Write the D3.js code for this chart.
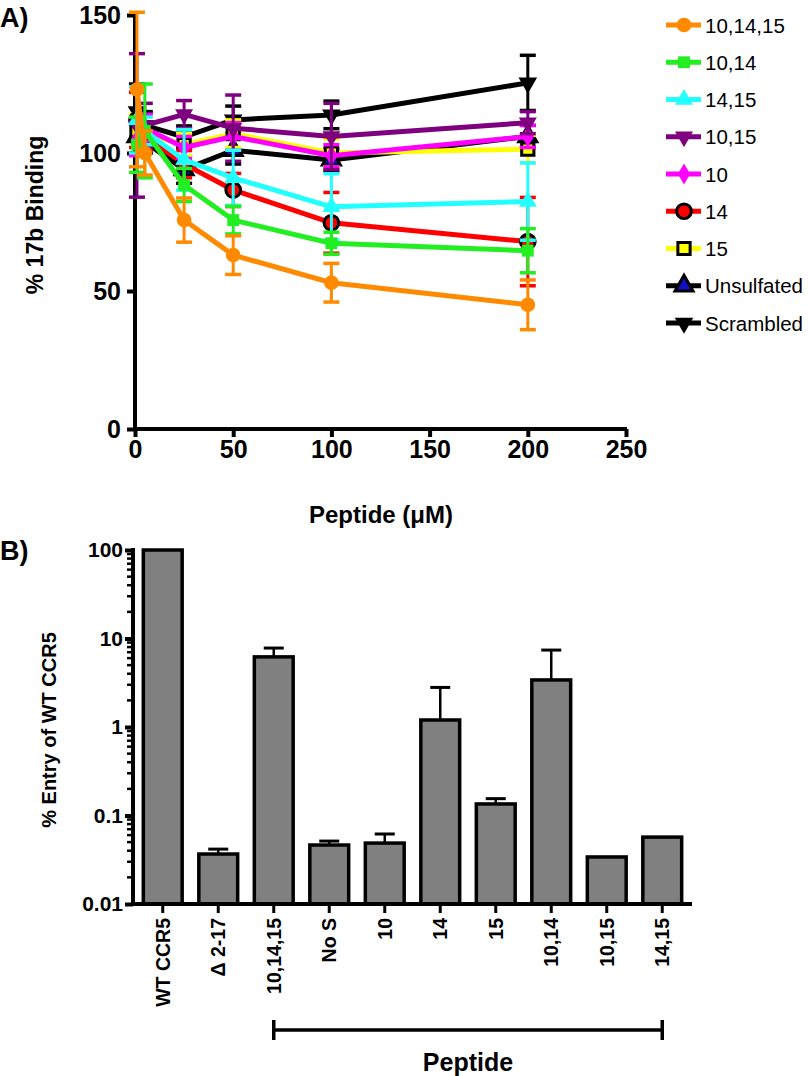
<!DOCTYPE html>
<html><head><meta charset="utf-8">
<script src="https://cdn.jsdelivr.net/npm/d3@7"></script>
<style>body{margin:0;background:#fff}svg{display:block;font-family:"Liberation Sans",Arial,sans-serif}</style>
</head><body><svg id="c" width="808" height="1076"></svg>
<script>
// ---------- Panel A data ----------
const concentrations = [1, 5, 25, 50, 100, 200];
const seriesNames = ["10,14,15","10,14","14,15","10,15","10","14","15","Unsulfated","Scrambled"];
const m_101415 = [123, 100, 75.7, 63, 53, 45];
const e_101415 = [28, 8, 8, 7, 7, 9];
const m_1014 = [103, 108, 88.4, 75.7, 67.3, 64.6];
const e_1014 = [10, 17, 6, 5, 4, 8];
const m_1415 = [112, 108, 97.5, 91, 80.5, 82.4];
const e_1415 = [12, 5, 11, 10, 12, 14];
const m_1015 = [110, 110, 114, 109, 106, 111];
const e_1015 = [26, 8, 5, 12, 12, 4];
const m_10 = [105, 109, 102, 106, 99, 106];
const e_10 = [6, 5, 4, 5, 4, 4];
const m_14 = [112, 106, 96, 86.6, 74.7, 67.9];
const e_14 = [10, 5, 5, 6, 11, 16];
const m_15 = [108, 107, 103, 107, 100, 101.4];
const e_15 = [6, 4, 4, 5, 5, 5];
const m_unsulf = [106, 104, 94, 101, 97.5, 106];
const e_unsulf = [6, 4, 5, 5, 4, 4];
const m_scr = [115, 110, 105.8, 112, 113.8, 125.4];
const e_scr = [10, 5, 4, 5, 5, 10];
const yTicksA = [0, 50, 100, 150];
const xTicksA = [0, 50, 100, 150, 200, 250];

// ---------- Panel B data ----------
const barCategories = ["WT CCR5","\u0394 2-17","10,14,15","No S","10","14","15","10,14","10,15","14,15"];
const barValues = [100, 0.0367, 6.2, 0.0464, 0.0488, 1.2, 0.135, 3.4, 0.034, 0.057];
const barErrors = [0, 0.005, 1.6, 0.005, 0.013, 1.6, 0.02, 4.0, 0, 0];
const yTicksB = [0.01, 0.1, 1, 10, 100];
const yTickLabelsB = ["0.01","0.1","1","10","100"];

const svg = d3.select("#c");
const FF = "Liberation Sans, Arial";

// ===== Panel A =====
const xA = d3.scaleLinear().domain([0, 250]).range([135, 626]);
const yA = d3.scaleLinear().domain([0, 150]).range([429, 15]);

const styles = [
  {color:"#FF8A00", sym:d3.symbolCircle, fill:"#FF8A00", stroke:"none", rot:0, size:170},
  {color:"#22EE22", sym:d3.symbolSquare, fill:"#22EE22", stroke:"none", rot:0, size:140},
  {color:"#22FFFF", sym:d3.symbolTriangle, fill:"#22FFFF", stroke:"none", rot:0, size:140},
  {color:"#7F007F", sym:d3.symbolTriangle, fill:"#7F007F", stroke:"none", rot:180, size:140},
  {color:"#FF00FF", sym:d3.symbolDiamond, fill:"#FF00FF", stroke:"none", rot:0, size:130},
  {color:"#FF0000", sym:d3.symbolCircle, fill:"#FF0000", stroke:"#000", rot:0, size:170},
  {color:"#FFFF00", sym:d3.symbolSquare, fill:"#FFFF00", stroke:"#000", rot:0, size:150},
  {color:"#000000", sym:d3.symbolTriangle, fill:"#1010C0", stroke:"#000", rot:0, size:140},
  {color:"#000000", sym:d3.symbolTriangle, fill:"#000", stroke:"none", rot:180, size:150}
];
const means = [m_101415, m_1014, m_1415, m_1015, m_10, m_14, m_15, m_unsulf, m_scr];
const errs = [e_101415, e_1014, e_1415, e_1015, e_10, e_14, e_15, e_unsulf, e_scr];

const gA = svg.append("g");
const yAxisA = d3.axisLeft(yA).tickValues(yTicksA).tickSize(8).tickPadding(6);
const xAxisA = d3.axisBottom(xA).tickValues(xTicksA).tickSize(8).tickPadding(3);
const gyA = gA.append("g").attr("transform","translate(135,0)").call(yAxisA);
const gxA = gA.append("g").attr("transform","translate(0,429)").call(xAxisA);
[gyA,gxA].forEach(g=>{
  g.select(".domain").attr("stroke","#000").attr("stroke-width",4);
  g.selectAll(".tick line").attr("stroke","#000").attr("stroke-width",4);
  g.selectAll(".tick text").attr("fill","#000").attr("font-size",25).attr("font-weight","bold").attr("font-family",FF);
});
gyA.select(".domain").attr("d","M0,13V431");
gxA.select(".domain").attr("d","M133,0H627");

for (let i = seriesNames.length - 1; i >= 0; i--) {
  const st = styles[i];
  const g = gA.append("g");
  const pts = concentrations.map((x,j)=>({x, m:means[i][j], e:errs[i][j]}));
  pts.forEach(p=>{
    const cx = xA(p.x);
    g.append("line").attr("x1",cx).attr("x2",cx).attr("y1",yA(p.m-p.e)).attr("y2",yA(p.m+p.e))
      .attr("stroke",st.color).attr("stroke-width",3);
    [p.m-p.e, p.m+p.e].forEach(v=>{
      g.append("line").attr("x1",cx-8).attr("x2",cx+8).attr("y1",yA(v)).attr("y2",yA(v))
        .attr("stroke",st.color).attr("stroke-width",3.5);
    });
  });
  g.append("path").datum(pts)
    .attr("d", d3.line().x(p=>xA(p.x)).y(p=>yA(p.m)))
    .attr("fill","none").attr("stroke",st.color).attr("stroke-width",5).attr("stroke-linejoin","round");
  g.selectAll("path.pt").data(pts).join("path").attr("class","pt")
    .attr("d", d3.symbol().type(st.sym).size(st.size))
    .attr("transform",p=>`translate(${xA(p.x)},${yA(p.m)}) rotate(${st.rot})`)
    .attr("fill",st.fill).attr("stroke",st.stroke).attr("stroke-width",st.stroke==="none"?0:3);
}

// legend
const legY = d3.scalePoint().domain(seriesNames).range([25, 323]);
seriesNames.forEach((n,i)=>{
  const st = styles[i], y = legY(n);
  svg.append("line").attr("x1",666).attr("x2",701).attr("y1",y).attr("y2",y)
    .attr("stroke",st.color).attr("stroke-width",5);
  svg.append("path").attr("d", d3.symbol().type(st.sym).size(st.size))
    .attr("transform",`translate(684,${y}) rotate(${st.rot})`)
    .attr("fill",st.fill).attr("stroke",st.stroke).attr("stroke-width",st.stroke==="none"?0:3);
  svg.append("text").attr("x",705).attr("y",y+7.5).attr("font-size",20.5).attr("fill","#000").attr("font-family",FF).text(n);
});

// titles A
svg.append("text").attr("x",0).attr("y",27).attr("font-size",27).attr("font-weight","bold").text("A)");
svg.append("text").attr("transform","translate(43,215) rotate(-90)").attr("text-anchor","middle")
  .attr("font-size",23).attr("font-weight","bold").text("% 17b Binding");
svg.append("text").attr("x",381).attr("y",523).attr("text-anchor","middle")
  .attr("font-size",24).attr("font-weight","bold").text("Peptide (\u03BCM)");

// ===== Panel B =====
const xB = d3.scaleBand().domain(barCategories).range([135, 690]).paddingInner(0.3).paddingOuter(0.15);
const yB = d3.scaleLog().domain([0.01, 100]).range([904, 550]);
const gB = svg.append("g");

barCategories.forEach((c,i)=>{
  const x0 = xB(c), w = xB.bandwidth(), cx = x0 + w/2;
  if (barErrors[i] > 0) {
    const top = yB(barValues[i] + barErrors[i]);
    gB.append("line").attr("x1",cx).attr("x2",cx).attr("y1",yB(barValues[i])).attr("y2",top).attr("stroke","#000").attr("stroke-width",2.5);
    gB.append("line").attr("x1",cx-10).attr("x2",cx+10).attr("y1",top).attr("y2",top).attr("stroke","#000").attr("stroke-width",3);
  }
  gB.append("rect").attr("x",x0).attr("y",yB(barValues[i])).attr("width",w).attr("height",904-yB(barValues[i]))
    .attr("fill","#808080").attr("stroke","#000").attr("stroke-width",3.5);
});

const minor = [];
for (let d = 0.01; d < 100; d *= 10) for (let k = 2; k <= 9; k++) minor.push(+(d*k).toPrecision(3));
const gyB = gB.append("g").attr("transform","translate(133,0)");
minor.forEach(v=>gyB.append("line").attr("x1",-6).attr("x2",0).attr("y1",yB(v)).attr("y2",yB(v)).attr("stroke","#000").attr("stroke-width",2.5));
gyB.call(d3.axisLeft(yB).tickValues(yTicksB).tickFormat((d,i)=>yTickLabelsB[i]).tickSize(8).tickPadding(2));
gyB.select(".domain").attr("stroke","#000").attr("stroke-width",4).attr("d","M0,548V906");
gyB.selectAll(".tick line").attr("stroke","#000").attr("stroke-width",4);
gyB.selectAll(".tick text").attr("fill","#000").attr("font-size",21).attr("font-weight","bold").attr("font-family",FF);

const gxB = gB.append("g").attr("transform","translate(0,904)");
gxB.call(d3.axisBottom(xB).tickSize(9).tickSizeOuter(0).tickPadding(4));
gxB.select(".domain").attr("stroke","#000").attr("stroke-width",4).attr("d","M131,0H692");
gxB.selectAll(".tick line").attr("stroke","#000").attr("stroke-width",3);
gxB.selectAll(".tick text").attr("fill","#000").attr("font-size",19.5).attr("font-weight","bold").attr("font-family",FF)
  .attr("transform","rotate(-90)").attr("text-anchor","end").attr("x",-14).attr("y",0).attr("dy","0.35em");

const bx1 = xB("10,14,15") + xB.bandwidth()/2, bx2 = xB("14,15") + xB.bandwidth()/2;
gB.append("line").attr("x1",bx1).attr("x2",bx2).attr("y1",1030).attr("y2",1030).attr("stroke","#000").attr("stroke-width",3.5);
[bx1,bx2].forEach(x=>gB.append("line").attr("x1",x).attr("x2",x).attr("y1",1020).attr("y2",1040).attr("stroke","#000").attr("stroke-width",3.5));
svg.append("text").attr("x",(bx1+bx2)/2).attr("y",1071).attr("text-anchor","middle").attr("font-size",25).attr("font-weight","bold").text("Peptide");

svg.append("text").attr("x",0).attr("y",560).attr("font-size",27).attr("font-weight","bold").text("B)");
svg.append("text").attr("transform","translate(56,730) rotate(-90)").attr("text-anchor","middle")
  .attr("font-size",20).attr("font-weight","bold").text("% Entry of WT CCR5");
</script></body></html>
